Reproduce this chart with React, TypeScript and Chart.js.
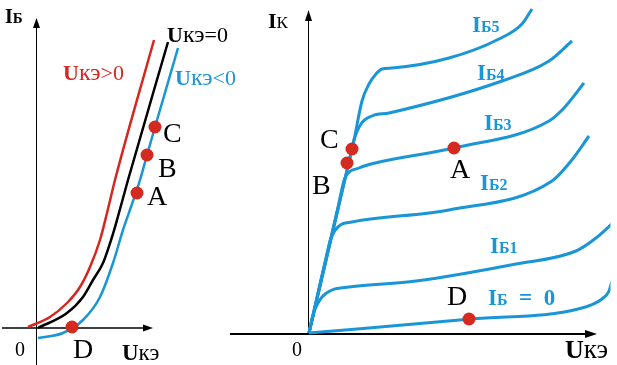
import { useEffect, useRef } from "react";
import { Chart, registerables } from "chart.js";

Chart.register(...registerables);

// ---------- Left panel: input characteristics IБ(U) ----------
const inputUcePositive = [[-0.8, 0.1], [1.4, 1.1], [3.1, 2.5], [4.4, 4.1], [5.4, 6.1], [6.4, 8.8], [7.1, 11.5], [7.9, 14.8], [11.8, 28.8]];
const inputUceZero = [[0.2, 0.0], [3.1, 1.5], [4.7, 3.1], [5.7, 4.8], [6.7, 6.5], [7.6, 9.1], [8.1, 10.8], [9.2, 14.8], [13.2, 28.6]];
const inputUceNegative = [[0.2, -1.0], [2.7, -0.5], [4.7, 0.8], [6.4, 3.1], [7.7, 6.5], [8.7, 9.8], [9.6, 12.4], [10.4, 14.8], [11.1, 17.3], [11.9, 20.1], [14.2, 28.0]];
const inputPoints = [[3.6, 0.1], [10.1, 13.5], [11.1, 17.3], [11.9, 20.1]]; // D, A, B, C

// ---------- Right panel: output characteristics IК(Uкэ) ----------
const outputIb0 = [[0.1, 0.1], [16.3, 1.5], [27.4, 2.6], [29.4, 3.5], [30.1, 4.3], [30.4, 5.3]];
const outputIb1 = [[0.1, 0.1], [0.4, 1.5], [0.8, 2.7], [1.4, 3.7], [2.4, 4.4], [4.1, 4.7], [10.8, 5.3], [20.8, 7.0], [26.8, 8.3], [28.8, 9.6], [30.7, 11.3]];
const outputIb2 = [[0.1, 0.1], [1.8, 7.6], [2.3, 9.6], [3.1, 10.8], [4.4, 11.2], [14.1, 12.4], [24.4, 15.3], [26.3, 17.3], [28.1, 19.8]];
const outputIb3 = [[0.1, 0.1], [3.0, 12.7], [3.7, 15.6], [5.1, 16.6], [6.3, 17.0], [14.6, 18.6], [24.1, 21.3], [25.6, 22.6], [27.6, 25.1]];
const outputIb4 = [[0.1, 0.1], [4.0, 16.8], [4.6, 19.4], [5.3, 21.0], [6.4, 21.8], [8.1, 22.1], [19.4, 25.3], [24.1, 27.3], [26.4, 29.3]];
const outputIb5 = [[0.1, 0.1], [4.0, 16.8], [4.6, 19.4], [5.4, 23.3], [6.1, 25.0], [6.8, 26.0], [7.4, 26.5], [8.4, 26.6], [14.1, 27.6], [19.1, 29.5], [21.4, 31.0], [22.4, 32.5]];
const outputPoints = [[16.1, 1.5], [14.6, 18.6], [3.9, 17.1], [4.4, 18.5]]; // D, A, B, C

const BLUE = "#1a96d6";
const RED = "#d7261e";
const BLACK = "#000000";
const DOT = "#d42a20";
const SERIF = '"Liberation Serif", "Times New Roman", serif';

const pts = (a: number[][]) => a.map(([x, y]) => ({ x, y }));

type Part = { t: string; size: number; bold?: boolean };
type Label = { side: "L" | "R"; x: number; y: number; color: string; parts: Part[] };

const uPart = (size: number, ksize: number): Part[] => [
  { t: "U", size, bold: true },
  { t: "кэ", size: ksize },
];
const ibPart = (idx: string): Part[] => [
  { t: "I", size: 23, bold: true },
  { t: "Б" + idx, size: 16, bold: true },
];
const letter = (t: string): Part[] => [{ t, size: 28 }];

const labels: Label[] = [
  { side: "L", x: -3.1, y: 30.5, color: BLACK, parts: [{ t: "I", size: 20, bold: true }, { t: "Б", size: 15, bold: true }] },
  { side: "L", x: -2.1, y: -2.8, color: BLACK, parts: [{ t: "0", size: 20 }] },
  { side: "L", x: 3.7, y: -3.0, color: BLACK, parts: letter("D") },
  { side: "L", x: 8.6, y: -3.2, color: BLACK, parts: uPart(23, 23) },
  { side: "L", x: 11.1, y: 12.3, color: BLACK, parts: letter("A") },
  { side: "L", x: 12.2, y: 15.1, color: BLACK, parts: letter("B") },
  { side: "L", x: 12.7, y: 18.6, color: BLACK, parts: letter("C") },
  { side: "L", x: 13.1, y: 28.6, color: BLACK, parts: [...uPart(22, 24), { t: "=0", size: 22 }] },
  { side: "L", x: 2.7, y: 24.8, color: RED, parts: [...uPart(22, 24), { t: ">0", size: 22 }] },
  { side: "L", x: 13.9, y: 24.3, color: BLUE, parts: [...uPart(22, 24), { t: "<0", size: 22 }] },

  { side: "R", x: -4.0, y: 30.6, color: BLACK, parts: [{ t: "I", size: 22, bold: true }, { t: "К", size: 17 }] },
  { side: "R", x: -1.6, y: -2.2, color: BLACK, parts: [{ t: "0", size: 20 }] },
  { side: "R", x: 25.7, y: -2.4, color: BLACK, parts: uPart(26, 27) },
  { side: "R", x: 16.4, y: 30.2, color: BLUE, parts: ibPart("5") },
  { side: "R", x: 16.9, y: 25.4, color: BLUE, parts: ibPart("4") },
  { side: "R", x: 17.6, y: 20.4, color: BLUE, parts: ibPart("3") },
  { side: "R", x: 17.2, y: 14.4, color: BLUE, parts: ibPart("2") },
  { side: "R", x: 18.2, y: 8.1, color: BLUE, parts: ibPart("1") },
  { side: "R", x: 18.0, y: 2.9, color: BLUE, parts: [{ t: "I", size: 23, bold: true }, { t: "Б", size: 16, bold: true }, { t: "  =  0", size: 23, bold: true }] },
  { side: "R", x: 13.9, y: 2.9, color: BLACK, parts: letter("D") },
  { side: "R", x: 14.2, y: 15.6, color: BLACK, parts: letter("A") },
  { side: "R", x: 1.2, y: 18.6, color: BLACK, parts: letter("C") },
  { side: "R", x: 0.4, y: 14.0, color: BLACK, parts: letter("B") },
];

// axis extents (data units of each panel)
const leftYAxis = [-3.7, 31.0];
const leftXAxis = [-3.4, 11.7];
const rightYAxis = [0, 32.4];
const rightXAxis = [-7.8, 28.9];

// layout: canvas size, pixels per data unit and panel origins
const W = 617;
const H = 365;
const PX = 10;
const INSET = 6.5; // chart area inset Chart.js reserves for the dot radius
const xRange = (originPx: number) => {
  const min = (INSET - originPx) / PX;
  return { min, max: min + (W - 2 * INSET) / PX };
};
const yRange = (originPx: number) => {
  const min = (originPx - (H - INSET)) / PX;
  return { min, max: min + (H - 2 * INSET) / PX };
};

const overlay = {
  id: "overlay",
  beforeDatasetsDraw(chart: any) {
    const ctx = chart.ctx as CanvasRenderingContext2D;
    const s = chart.scales;
    const arrow = (tx: number, ty: number, dir: "up" | "right", len: number, hw: number) => {
      ctx.beginPath();
      if (dir === "up") {
        ctx.moveTo(tx, ty);
        ctx.lineTo(tx - hw, ty + len);
        ctx.lineTo(tx + hw, ty + len);
      } else {
        ctx.moveTo(tx, ty);
        ctx.lineTo(tx - len, ty - hw);
        ctx.lineTo(tx - len, ty + hw);
      }
      ctx.closePath();
      ctx.fill();
    };
    ctx.save();
    ctx.strokeStyle = BLACK;
    ctx.fillStyle = BLACK;
    // left y
    let x0 = Math.round(s.xL.getPixelForValue(0)) + 0.5;
    ctx.lineWidth = 1;
    ctx.beginPath();
    ctx.moveTo(x0, s.yL.getPixelForValue(leftYAxis[0]));
    ctx.lineTo(x0, s.yL.getPixelForValue(leftYAxis[1]) + 6);
    ctx.stroke();
    arrow(x0, s.yL.getPixelForValue(leftYAxis[1]), "up", 10, 3.5);
    // left x
    let y0 = s.yL.getPixelForValue(0);
    ctx.lineWidth = 1.5;
    ctx.beginPath();
    ctx.moveTo(s.xL.getPixelForValue(leftXAxis[0]), y0);
    ctx.lineTo(s.xL.getPixelForValue(leftXAxis[1]) - 6, y0);
    ctx.stroke();
    arrow(s.xL.getPixelForValue(leftXAxis[1]), y0, "right", 10, 3.5);
    // right y
    x0 = Math.round(s.xR.getPixelForValue(0)) + 0.5;
    ctx.lineWidth = 1;
    ctx.beginPath();
    ctx.moveTo(x0, s.yR.getPixelForValue(rightYAxis[0]));
    ctx.lineTo(x0, s.yR.getPixelForValue(rightYAxis[1]) + 6);
    ctx.stroke();
    arrow(x0, s.yR.getPixelForValue(rightYAxis[1]), "up", 11, 3.5);
    // right x
    y0 = s.yR.getPixelForValue(0);
    ctx.lineWidth = 2;
    ctx.beginPath();
    ctx.moveTo(s.xR.getPixelForValue(rightXAxis[0]), y0);
    ctx.lineTo(s.xR.getPixelForValue(rightXAxis[1]) - 6, y0);
    ctx.stroke();
    arrow(s.xR.getPixelForValue(rightXAxis[1]), y0, "right", 12, 4);
    ctx.restore();
  },
  afterDraw(chart: any) {
    const ctx = chart.ctx as CanvasRenderingContext2D;
    const s = chart.scales;
    ctx.save();
    ctx.textBaseline = "alphabetic";
    ctx.textAlign = "left";
    for (const l of labels) {
      const xs = l.side === "L" ? s.xL : s.xR;
      const ys = l.side === "L" ? s.yL : s.yR;
      let cx = xs.getPixelForValue(l.x);
      const cy = ys.getPixelForValue(l.y);
      ctx.fillStyle = l.color;
      for (const p of l.parts) {
        ctx.font = `${p.bold ? "bold " : ""}${p.size}px ${SERIF}`;
        ctx.fillText(p.t, cx, cy);
        cx += ctx.measureText(p.t).width;
      }
    }
    ctx.restore();
  },
};

const curve = (data: number[][], color: string, width: number, side: "L" | "R") => ({
  type: "line" as const,
  data: pts(data),
  borderColor: color,
  borderWidth: width,
  pointRadius: 0,
  fill: false,
  cubicInterpolationMode: "monotone" as const,
  xAxisID: side === "L" ? "xL" : "xR",
  yAxisID: side === "L" ? "yL" : "yR",
  order: 1,
});

const dots = (data: number[][], side: "L" | "R") => ({
  type: "line" as const,
  data: pts(data),
  showLine: false,
  pointRadius: 6.5,
  pointBackgroundColor: DOT,
  pointBorderWidth: 0,
  borderColor: DOT,
  xAxisID: side === "L" ? "xL" : "xR",
  yAxisID: side === "L" ? "yL" : "yR",
  order: 0,
});

export default function App() {
  const ref = useRef<HTMLCanvasElement>(null);
  useEffect(() => {
    if (!ref.current) return;
    const hidden = (axis: "x" | "y", r: { min: number; max: number }) => ({
      type: "linear" as const,
      axis,
      display: false,
      min: r.min,
      max: r.max,
    });
    const chart = new Chart(ref.current, {
      type: "line",
      data: {
        datasets: [
          curve(inputUcePositive, RED, 2.5, "L"),
          curve(inputUceZero, BLACK, 2.5, "L"),
          curve(inputUceNegative, BLUE, 2.5, "L"),
          curve(outputIb0, BLUE, 3, "R"),
          curve(outputIb1, BLUE, 3, "R"),
          curve(outputIb2, BLUE, 3, "R"),
          curve(outputIb3, BLUE, 3, "R"),
          curve(outputIb4, BLUE, 3, "R"),
          curve(outputIb5, BLUE, 3, "R"),
          dots(inputPoints, "L"),
          dots(outputPoints, "R"),
        ] as any,
      },
      options: {
        responsive: false,
        animation: false,
        devicePixelRatio: 1,
        layout: { padding: 0 },
        plugins: { legend: { display: false }, tooltip: { enabled: false } },
        events: [],
        scales: {
          xL: hidden("x", xRange(36)),
          yL: hidden("y", yRange(328)),
          xR: hidden("x", xRange(308)),
          yR: hidden("y", yRange(334)),
        } as any,
      },
      plugins: [overlay],
    });
    return () => chart.destroy();
  }, []);
  return (
    <div style={{ position: "fixed", left: 0, top: 0, width: W, height: H, background: "#fff" }}>
      <canvas ref={ref} width={W} height={H} style={{ display: "block" }} />
    </div>
  );
}
